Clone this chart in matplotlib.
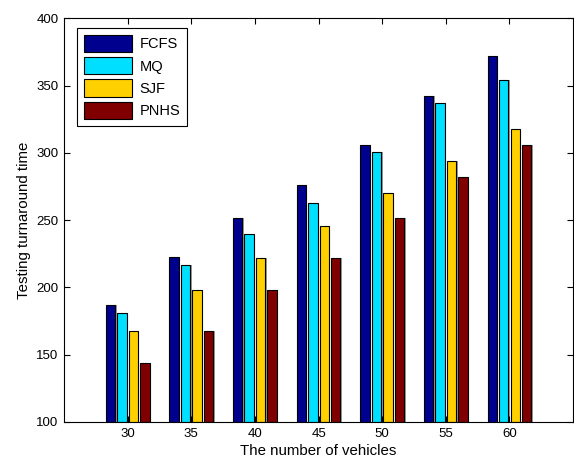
import numpy as np
import matplotlib.pyplot as plt

plt.rcParams['font.family'] = ['Liberation Sans', 'DejaVu Sans']

vehicles = ['30', '35', '40', '45', '50', '55', '60']
fcfs = [187, 223, 252, 276, 306, 342, 372]
mq = [181, 217, 240, 263, 301, 337, 354]
sjf = [168, 198, 222, 246, 270, 294, 318]
pnhs = [144, 168, 198, 222, 252, 282, 306]

series = [('FCFS', fcfs, '#00008F'), ('MQ', mq, '#00DFFF'),
          ('SJF', sjf, '#FFD000'), ('PNHS', pnhs, '#800000')]

fig = plt.figure(figsize=(5.74, 4.61), dpi=100)
ax = fig.add_axes([0.1115, 0.0846, 0.887, 0.8755])

x = np.arange(len(vehicles))
slot = 0.18
width = 0.148
for i, (name, vals, col) in enumerate(series):
    pos = x + (i - 1.5) * slot
    # light gray shadow on the right edge like the original export
    ax.bar(pos + 0.022, np.array(vals) - 100, width, bottom=100,
           color='#9a9a9a', edgecolor='none', zorder=1)
    ax.bar(pos, np.array(vals) - 100, width, bottom=100, color=col,
           edgecolor='black', linewidth=0.8, label=name, zorder=2)

ax.set_xlim(-1, 7)
ax.set_ylim(100, 400)
ax.set_xticks(x)
ax.set_xticklabels(vehicles)
ax.set_yticks(np.arange(100, 401, 50))
ax.tick_params(direction='in', top=True, right=True, length=4, labelsize=9.5,
               pad=4)
ax.set_xlabel('The number of vehicles', fontsize=10.8, labelpad=3)
ax.set_ylabel('Testing turnaround time', fontsize=10.8, labelpad=4)
for s in ax.spines.values():
    s.set_linewidth(0.8)

leg = ax.legend(loc='upper left', bbox_to_anchor=(0.0255, 0.976), fontsize=10.5,
                fancybox=False, edgecolor='black', framealpha=1,
                borderaxespad=0, handlelength=3.3, handleheight=1.45,
                labelspacing=0.35, borderpad=0.45, handletextpad=0.55)
leg.get_frame().set_linewidth(0.8)

fig.savefig('out.png', dpi=100)
